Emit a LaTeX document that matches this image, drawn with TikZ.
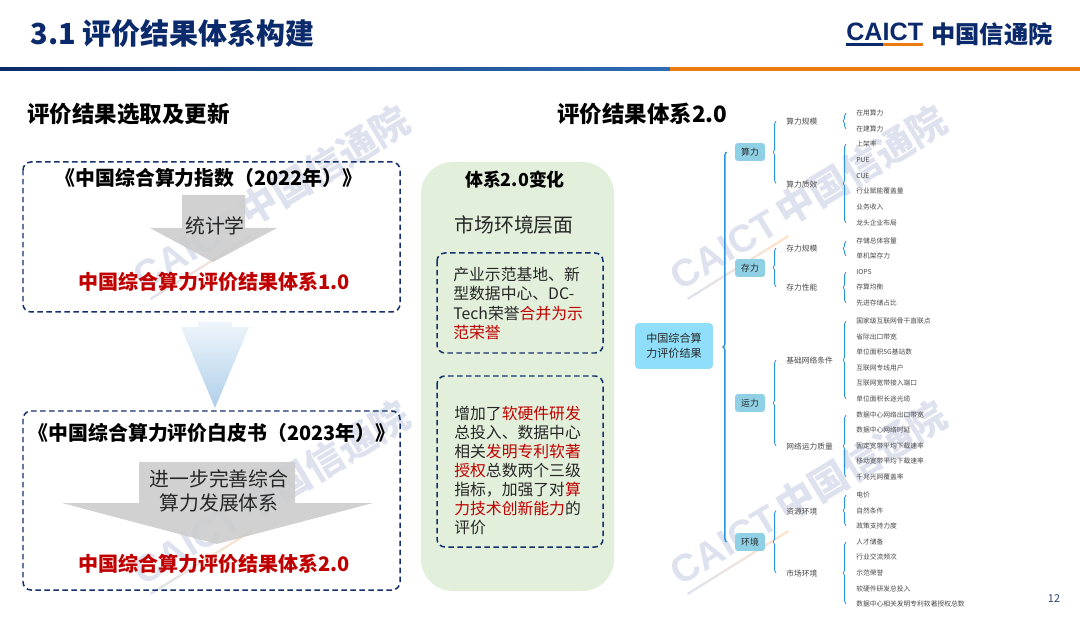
\documentclass[tikz,border=0pt]{standalone}
\usepackage{fontspec}
\setmainfont{Noto Sans CJK SC}
\newfontfamily\logofont{Liberation Sans}
\usetikzlibrary{decorations.pathreplacing}
\definecolor{navy}{HTML}{0B2A6B}
\definecolor{dashnavy}{HTML}{14306E}
\definecolor{hong}{HTML}{C00000}
\definecolor{wmark}{HTML}{DDE2EE}
\definecolor{leafgrey}{HTML}{4A4A4A}
\definecolor{brcblue}{HTML}{2A94DC}
\definecolor{dimfill}{HTML}{8FD0E4}
\definecolor{rootfill}{HTML}{8FDFFA}
\definecolor{panelgreen}{HTML}{E2EFDA}
\definecolor{skyblue}{HTML}{AFCFEA}
\definecolor{rulemid}{HTML}{2E6DB4}
\definecolor{ruleorange}{HTML}{EC7C12}
\tikzset{
  headline/.style={font=\fontsize{12.8}{15}\selectfont\bfseries,text=black,inner sep=0pt},
  booktitle/.style={font=\fontsize{11.3}{14}\selectfont\bfseries,text=black,inner sep=0pt},
  redline/.style={font=\fontsize{11.4}{14}\selectfont\bfseries,text=hong,inner sep=0pt},
  bodytext/.style={font=\fontsize{11.3}{14}\selectfont,text=black!85,inner sep=0pt,align=center},
  paneltext/.style={font=\fontsize{9}{10.9}\selectfont,text=black!85,inner sep=0pt,align=left,anchor=west},
  dashbox/.style={draw=dashnavy,line width=0.03cm,dash pattern=on 0.11cm off 0.07cm,rounded corners=0.16cm},
  grayarrow/.style={fill=black!20,fill opacity=0.9},
  rootnode/.style={fill=rootfill,rounded corners=0.08cm,minimum width=1.56cm,minimum height=0.92cm,align=center,inner sep=0pt,font=\fontsize{6.3}{8.5}\selectfont,text=black!85},
  dimnode/.style={fill=dimfill,rounded corners=0.06cm,minimum width=0.6cm,minimum height=0.36cm,inner sep=0pt,font=\fontsize{5}{6}\selectfont,text=black!85},
  subnode/.style={anchor=west,inner sep=0pt,text height=5pt,text depth=1pt,font=\fontsize{4.4}{5}\selectfont,text=leafgrey},
  leafnode/.style={anchor=west,inner sep=0pt,text height=4.4pt,text depth=1pt,font=\fontsize{3.85}{4.6}\selectfont,text=leafgrey},
  brc/.style={draw=brcblue,line width=0.016cm,decorate,decoration={brace,amplitude=0.055cm}},
  brcroot/.style={brc,line width=0.028cm,decoration={brace,amplitude=0.07cm}}
}
\begin{document}
\begin{tikzpicture}[x=0.02cm,y=-0.02cm]
  \useasboundingbox (0,0) rectangle (1080,625);
  \fill[white] (0,0) rectangle (1080,625);
  % watermarks
  \foreach \wx/\wy in {135/272,672/272,135/567,672/567}{
    \begin{scope}[shift={(\wx,\wy)}]
      \node[rotate=31,anchor=west,inner sep=0pt,text=wmark,font=\fontsize{21.8}{24}\selectfont\bfseries] (wm\wx\wy) at (1,7) {{\logofont CAICT}\,中国信通院};
      \shade[left color=wmark,right color=orange!22] (15,26) -- (116,-37) -- (117,-35) -- (16,28) -- cycle;
    \end{scope}
  }
  % header
  \node[anchor=west,inner sep=0pt,text=navy,font=\fontsize{16.5}{20}\selectfont\bfseries] (title) at (30,33) {3.1 评价结果体系构建};
  \shade[left color=navy,right color=rulemid] (0,67.5) rectangle (670,71);
  \fill[ruleorange] (670,67.5) rectangle (1080,71);
  \node[anchor=west,inner sep=0pt,text=navy,font=\fontsize{14.3}{16}\logofont\bfseries] (logoen) at (846,32) {CAICT};
  \fill[navy] (846,43.5) rectangle (883,45.7);
  \fill[ruleorange] (883,43.5) rectangle (923,45.7);
  \node[anchor=west,inner sep=0pt,text=navy,font=\fontsize{13.8}{16}\selectfont\bfseries] (logocn) at (931,34) {中国信通院};
  \node[inner sep=0pt,text=navy!70!gray,font=\fontsize{6.2}{8}\selectfont] (pageno) at (1054,599) {12};
  % left column
  \node[headline,anchor=west] (headl) at (27,114) {评价结果选取及更新};
  \node[headline,anchor=west] (headr) at (557,114) {评价结果体系2.0};
  \draw[dashbox] (23,162) rectangle (400,312);
  \fill[grayarrow] (182,195) -- (245,195) -- (245,228) -- (277,228) -- (213,262) -- (150,228) -- (182,228) -- cycle;
  \node[booktitle] (book22) at (209,178) {《中国综合算力指数（2022年）》};
  \node[bodytext] (tongji) at (215,226) {统计学};
  \node[redline] (res1) at (214,282) {中国综合算力评价结果体系1.0};
  \shade[top color=skyblue!20,middle color=skyblue,bottom color=skyblue] (198,322) -- (232,322) -- (232,327) -- (249,327) -- (215,408) -- (181,327) -- (198,327) -- cycle;
  \draw[dashbox] (23,411) rectangle (400,590);
  \fill[grayarrow] (139,462) -- (295,462) -- (295,503) -- (373,503) -- (217,544) -- (62,503) -- (139,503) -- cycle;
  \node[booktitle] (book23) at (212,433) {《中国综合算力评价白皮书（2023年）》};
  \node[bodytext] (jinyibu) at (219,491) {进一步完善综合\\算力发展体系};
  \node[redline] (res2) at (214,564) {中国综合算力评价结果体系2.0};
  % middle panel
  \fill[panelgreen,rounded corners=0.64cm] (421,162) rectangle (614,591);
  \node[inner sep=0pt,text=black,font=\fontsize{10.2}{12}\selectfont\bfseries] (chg) at (515,180) {体系2.0变化};
  \node[bodytext] (mkt) at (514,225) {市场环境层面};
  \draw[dashbox] (437,253) rectangle (603,353);
  \node[paneltext] (txta) at (453,303.5) {产业示范基地、新\\型数据中心、DC-\\Tech荣誉\textcolor{hong}{合并为示}\\\textcolor{hong}{范荣誉}};
  \draw[dashbox] (437,376) rectangle (603,547);
  \node[paneltext] (txtb) at (454,470.5) {增加了\textcolor{hong}{软硬件研发}\\总投入、数据中心\\相关\textcolor{hong}{发明专利软著}\\\textcolor{hong}{授权}总数两个三级\\指标，加强了对\textcolor{hong}{算}\\\textcolor{hong}{力技术创新能力}的\\评价};
  % tree: root and first level
  \node[rootnode] (root) at (674,346) {中国综合算\\力评价结果};
  \node[dimnode] (suan) at (750,152) {算力};
  \node[dimnode] (cun) at (750,268) {存力};
  \node[dimnode] (yun) at (750,403) {运力};
  \node[dimnode] (huan) at (750,542) {环境};
  % second level
  \foreach \nm/\yy/\txt in {sa/121/算力规模,sb/183.5/算力质效,ca/248/存力规模,cb/287/存力性能,ya/360/基础网络条件,yb/446/网络运力质量,ha/510.5/资源环境,hb/573/市场环境}
    \node[subnode] (\nm) at (786,\yy) {\txt};
  % leaves
  \foreach \nm/\yy/\txt in {a1/113/在用算力,a2/129/在建算力,b1/144/上架率,b2/160/PUE,b3/176/CUE,b4/191/行业赋能覆盖量,b5/207/业务收入,b6/223/龙头企业布局,c1/241/存储总体容量,c2/256/单机架存力,d1/272/IOPS,d2/287/存算均衡,d3/303/先进存储占比,e1/321/国家级互联网骨干直联点,e2/337/省际出口带宽,e3/352/单位面积5G基站数,e4/368/互联网专线用户,e5/383/互联网宽带接入端口,e6/399/单位面积长途光缆,f1/415/数据中心网络出口带宽,f2/430/数据中心网络时延,f3/446/固定宽带平均下载速率,f4/461/移动宽带平均下载速率,f5/477/千兆光网覆盖率,g1/495/电价,g2/511/自然条件,g3/526/政策支持力度,h1/542/人才储备,h2/557/行业交流频次,h3/573/示范荣誉,h4/589/软硬件研发总投入,h5/604/数据中心相关发明专利软著授权总数}
    \node[leafnode] (\nm) at (856,\yy) {\txt};
  % braces
  \draw[brcroot] ([xshift=-0.16cm]huan.west) -- ([xshift=-0.16cm]suan.west);
  \foreach \top/\bot in {sa/sb,ca/cb,ya/yb,ha/hb}
    \draw[brc] ([xshift=-0.2cm]\bot.west) -- ([xshift=-0.2cm]\top.west);
  \foreach \top/\bot in {a1/a2,b1/b6,c1/c2,d1/d3,e1/e6,f1/f5,g1/g3,h1/h5}
    \draw[brc] ([xshift=-0.2cm]\bot.west) -- ([xshift=-0.2cm]\top.west);
\end{tikzpicture}
\end{document}
